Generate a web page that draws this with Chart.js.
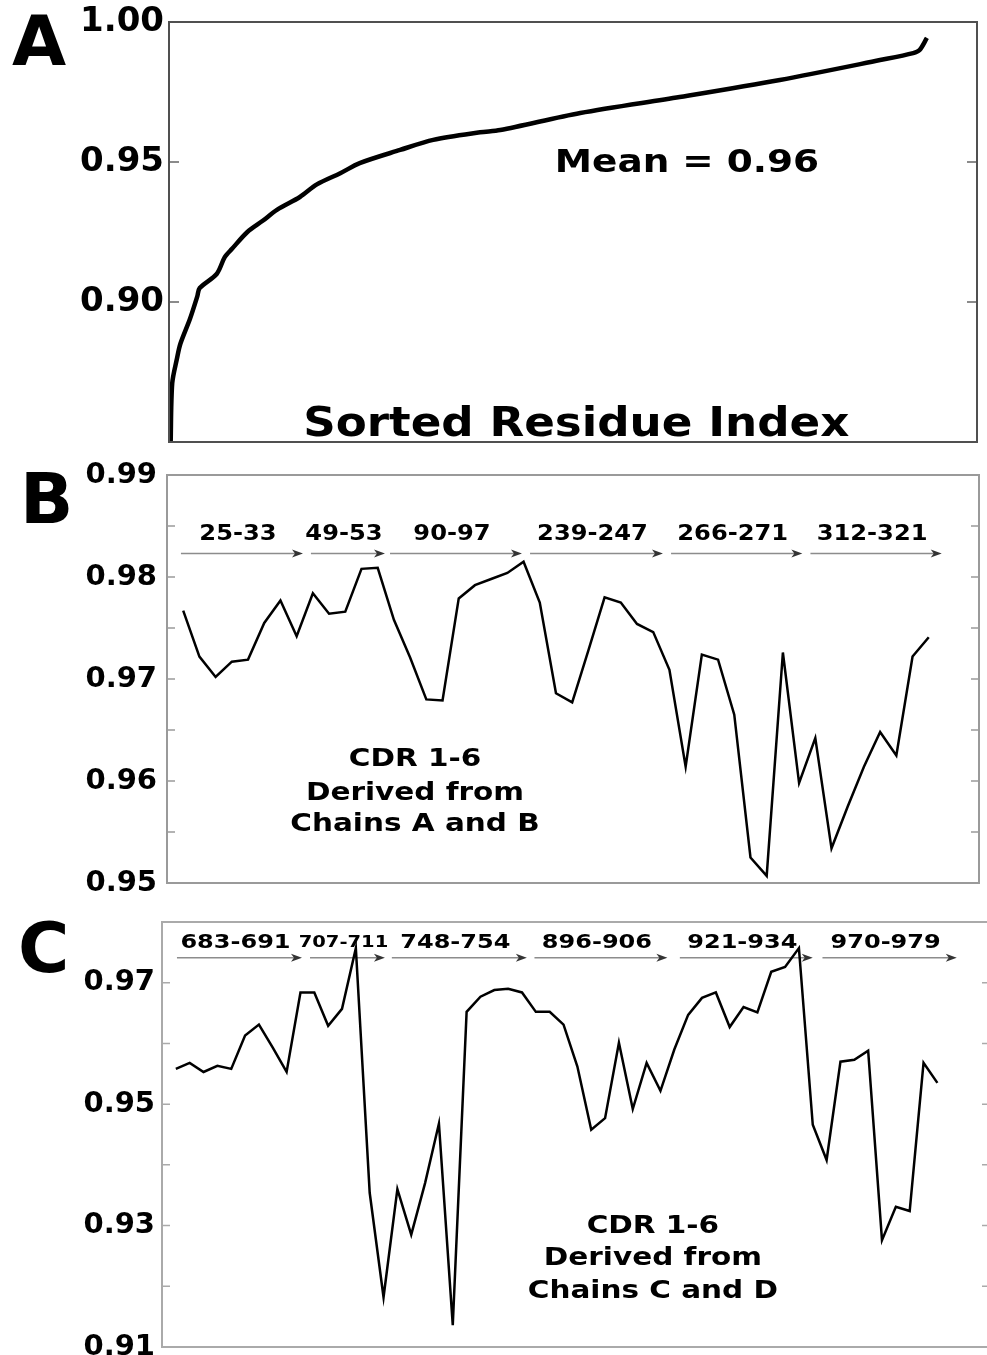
<!DOCTYPE html>
<html>
<head>
<meta charset="utf-8">
<script src="https://cdn.jsdelivr.net/npm/chart.js@4.4.0/dist/chart.umd.min.js"></script>
<style>
  html, body { margin: 0; padding: 0; background: #fff; }
  #wrap { position: relative; width: 987px; height: 1355px; overflow: hidden; background: #fff; }
  canvas { position: absolute; left: 0; }
</style>
</head>
<body>
<div id="wrap">
  <canvas id="chartA" width="987" height="460" style="top:0px"></canvas>
  <canvas id="chartB" width="987" height="445" style="top:455px"></canvas>
  <canvas id="chartC" width="995" height="455" style="top:900px"></canvas>
</div>
<script>
// ---- panel A : sorted residue scores ----
const sortedIndexA = [2, 4, 10, 14, 26, 35, 38, 59, 69, 78, 97, 116, 134, 162, 183, 212, 236, 286, 327, 385, 410, 509, 632, 756, 880, 921, 929, 938];
const sortedScoreA = [0.849, 0.871, 0.880, 0.885, 0.894, 0.902, 0.905, 0.910, 0.916, 0.919, 0.925, 0.929, 0.933, 0.9375, 0.942, 0.946, 0.9496, 0.9543, 0.9579, 0.9606, 0.9614, 0.9675, 0.9732, 0.9793, 0.9864, 0.9889, 0.990, 0.9943];
const yTicksA = ['', '0.90', '0.95', '1.00'];

// ---- panel B : CDR residues, chains A and B ----
const residuesB = [25, 26, 27, 28, 29, 30, 31, 32, 33,
  49, 50, 51, 52, 53,
  90, 91, 92, 93, 94, 95, 96, 97,
  239, 240, 241, 242, 243, 244, 245, 246, 247,
  266, 267, 268, 269, 270, 271,
  312, 313, 314, 315, 316, 317, 318, 319, 320, 321];
const scoreB = [0.9767, 0.9722, 0.9702, 0.9717, 0.9719, 0.9755, 0.9777, 0.9742, 0.9784,
  0.9764, 0.9766, 0.9808, 0.9809, 0.9758,
  0.9721, 0.9680, 0.9679, 0.9779, 0.9792, 0.9798, 0.9804, 0.9815,
  0.9775, 0.9686, 0.9677, 0.9728, 0.9780, 0.9775, 0.9754, 0.9746, 0.9709,
  0.9614, 0.9724, 0.9719, 0.9665, 0.9525, 0.9507,
  0.9726, 0.9598, 0.9642, 0.9534, 0.9575, 0.9614, 0.9648, 0.9625, 0.9722, 0.9741];
const cdrLabelsB = ['25-33', '49-53', '90-97', '239-247', '266-271', '312-321'];
const yTicksB = ['0.95', '', '0.96', '', '0.97', '', '0.98', '', '0.99'];
const noteB = ['CDR 1-6', 'Derived from', 'Chains A and B'];

// ---- panel C : CDR residues, chains C and D ----
const residuesC = [683, 684, 685, 686, 687, 688, 689, 690, 691,
  707, 708, 709, 710, 711,
  748, 749, 750, 751, 752, 753, 754,
  896, 897, 898, 899, 900, 901, 902, 903, 904, 905, 906,
  921, 922, 923, 924, 925, 926, 927, 928, 929, 930, 931, 932, 933, 934,
  970, 971, 972, 973, 974, 975, 976, 977, 978, 979];
const scoreC = [0.9558, 0.9568, 0.9553, 0.9563, 0.9558, 0.9613, 0.9631, 0.9593, 0.9553,
  0.9684, 0.9684, 0.9629, 0.9657, 0.9757,
  0.9354, 0.9182, 0.9360, 0.9285, 0.9370, 0.9468, 0.9136,
  0.9652, 0.9677, 0.9688, 0.9690, 0.9684, 0.9652, 0.9652, 0.9631, 0.9562, 0.9458, 0.9477,
  0.9601, 0.9492, 0.9568, 0.9522, 0.9590, 0.9647, 0.9675, 0.9684, 0.9627, 0.9660, 0.9651, 0.9718, 0.9726, 0.9757,
  0.9466, 0.9408, 0.9570, 0.9573, 0.9588, 0.9276, 0.9331, 0.9324, 0.9568, 0.9535];
const cdrLabelsC = ['683-691', '707-711', '748-754', '896-906', '921-934', '970-979'];
const yTicksC = ['0.91', '', '0.93', '', '0.95', '', '0.97', ''];
const noteC = ['CDR 1-6', 'Derived from', 'Chains C and D'];

// annotation placement (axis units)
const arrowsB = { level: 0.9823, spans: [[-0.14, 7.39], [7.88, 12.45], [12.76, 20.9], [21.4, 29.6], [30.1, 38.2], [38.7, 46.8]] };
const arrowsC = { level: 0.9741, spans: [[0.08, 9.11], [9.69, 15.1], [15.6, 25.35], [25.9, 35.5], [36.4, 46.0], [46.7, 56.4]] };
const labelSizeC = [20, 16, 20, 20, 20, 20];

Chart.defaults.font.family = 'DejaVu Sans';
Chart.defaults.color = '#000';

function wideText(ctx, text, x, y, size, sx, baseline) {
  ctx.save();
  ctx.font = 'bold ' + size + 'px "DejaVu Sans"';
  ctx.fillStyle = '#000';
  ctx.textAlign = 'center';
  ctx.textBaseline = baseline || 'middle';
  ctx.translate(x, y);
  ctx.scale(sx, 1);
  ctx.fillText(text, 0, 0);
  ctx.restore();
}

function drawArrow(ctx, x0, x1, y) {
  ctx.save();
  ctx.strokeStyle = '#8c8c8c';
  ctx.lineWidth = 1.5;
  ctx.beginPath();
  ctx.moveTo(x0, y);
  ctx.lineTo(x1 - 5, y);
  ctx.stroke();
  ctx.fillStyle = '#333';
  ctx.beginPath();
  ctx.moveTo(x1, y);
  ctx.lineTo(x1 - 11, y - 4);
  ctx.lineTo(x1 - 8, y);
  ctx.lineTo(x1 - 11, y + 4);
  ctx.closePath();
  ctx.fill();
  ctx.restore();
}

// frame, inward tick marks and panel letter
function framePlugin(letter, lx, ly, borderColor, tickColor, tickLen) {
  return {
    id: 'frame' + letter,
    afterDatasetsDraw(chart) {
      const { ctx, chartArea: a, scales: { y } } = chart;
      ctx.save();
      ctx.strokeStyle = tickColor;
      ctx.lineWidth = 1.5;
      y.ticks.forEach(t => {
        const py = y.getPixelForValue(t.value);
        if (py < a.top + 2 || py > a.bottom - 2) return;
        ctx.beginPath();
        ctx.moveTo(a.left, py); ctx.lineTo(a.left + tickLen, py);
        ctx.moveTo(a.right - tickLen, py); ctx.lineTo(a.right, py);
        ctx.stroke();
      });
      ctx.strokeStyle = borderColor;
      ctx.lineWidth = 2;
      ctx.strokeRect(a.left, a.top, a.right - a.left, a.bottom - a.top);
      ctx.font = 'bold 70px "DejaVu Sans"';
      ctx.fillStyle = '#000';
      ctx.textAlign = 'left';
      ctx.textBaseline = 'alphabetic';
      ctx.fillText(letter, lx, ly);
      ctx.restore();
    }
  };
}

function yAxis(min, max, step, labels, size, pad, width) {
  return {
    min: min, max: max,
    ticks: {
      stepSize: step, padding: pad, color: '#000',
      font: { family: 'DejaVu Sans', weight: 'bold', size: size },
      callback: (v, i) => labels[i]
    },
    grid: { display: false, drawTicks: false },
    border: { display: false },
    afterFit: s => { s.width = width; s.paddingTop = 0; s.paddingBottom = 0; }
  };
}

const baseOptions = {
  responsive: false,
  animation: false,
  devicePixelRatio: 1,
  plugins: { legend: { display: false }, tooltip: { enabled: false } }
};

// ---- A ----
new Chart(document.getElementById('chartA'), {
  type: 'line',
  data: {
    datasets: [{
      data: sortedIndexA.map((r, i) => ({ x: r, y: sortedScoreA[i] })),
      borderColor: '#000',
      borderWidth: 4.5,
      borderJoinStyle: 'round',
      pointRadius: 0,
      tension: 0.3
    }]
  },
  options: {
    ...baseOptions,
    layout: { padding: { top: 22, right: 10, bottom: 18, left: 0 } },
    scales: {
      x: { type: 'linear', min: 0, max: 1000, display: false },
      y: yAxis(0.85, 1.0, 0.05, yTicksA, 34, 5, 169)
    }
  },
  plugins: [{
    id: 'notesA',
    afterDatasetsDraw(chart) {
      const { ctx, scales: { x, y } } = chart;
      wideText(ctx, 'Mean = 0.96', x.getPixelForValue(641), y.getPixelForValue(0.9495), 32, 1.17);
      wideText(ctx, 'Sorted Residue Index', x.getPixelForValue(504), y.getPixelForValue(0.852), 40, 1.13, 'alphabetic');
    }
  }, framePlugin('A', 12, 65, '#505050', '#666', 10)]
});

// ---- B ----
new Chart(document.getElementById('chartB'), {
  type: 'line',
  data: {
    datasets: [{
      data: residuesB.map((r, i) => ({ x: i, y: scoreB[i] })),
      borderColor: '#000',
      borderWidth: 2.5,
      pointRadius: 0,
      tension: 0
    }]
  },
  options: {
    ...baseOptions,
    layout: { padding: { top: 20, right: 8, bottom: 17, left: 0 } },
    scales: {
      x: { type: 'linear', min: -1, max: 49.1, display: false },
      y: yAxis(0.95, 0.99, 0.005, yTicksB, 29, 10, 167)
    }
  },
  plugins: [{
    id: 'notesB',
    beforeDatasetsDraw(chart) {
      const { ctx, scales: { x, y } } = chart;
      const ay = y.getPixelForValue(arrowsB.level);
      arrowsB.spans.forEach((s, i) => {
        const x0 = x.getPixelForValue(s[0]), x1 = x.getPixelForValue(s[1]);
        drawArrow(ctx, x0, x1, ay);
        wideText(ctx, cdrLabelsB[i], (x0 + x1) / 2 - 4, ay - 19, 21, 1.15);
      });
      const lines = [0.9621, 0.9588, 0.9557];
      noteB.forEach((t, i) => wideText(ctx, t, x.getPixelForValue(14.3), y.getPixelForValue(lines[i]), 25, 1.18));
    }
  }, framePlugin('B', 20, 68, '#9a9a9a', '#9a9a9a', 8)]
});

// ---- C ----
new Chart(document.getElementById('chartC'), {
  type: 'line',
  data: {
    datasets: [{
      data: residuesC.map((r, i) => ({ x: i, y: scoreC[i] })),
      borderColor: '#000',
      borderWidth: 2.5,
      pointRadius: 0,
      tension: 0
    }]
  },
  options: {
    ...baseOptions,
    layout: { padding: { top: 22, right: 5, bottom: 8, left: 0 } },
    scales: {
      x: { type: 'linear', min: -1, max: 58.8, display: false },
      y: yAxis(0.91, 0.98, 0.01, yTicksC, 29, 7, 162)
    }
  },
  plugins: [{
    id: 'notesC',
    beforeDatasetsDraw(chart) {
      const { ctx, scales: { x, y } } = chart;
      const ay = y.getPixelForValue(arrowsC.level);
      arrowsC.spans.forEach((s, i) => {
        const x0 = x.getPixelForValue(s[0]), x1 = x.getPixelForValue(s[1]);
        drawArrow(ctx, x0, x1, ay);
        wideText(ctx, cdrLabelsC[i], (x0 + x1) / 2 - 4, ay - 15, labelSizeC[i], labelSizeC[i] < 20 ? 1.22 : 1.2);
      });
      const lines = [0.9298, 0.9245, 0.9191];
      noteC.forEach((t, i) => wideText(ctx, t, x.getPixelForValue(34.45), y.getPixelForValue(lines[i]), 25, 1.18));
    }
  }, framePlugin('C', 18, 72, '#aaaaaa', '#aaaaaa', 8)]
});
</script>
</body>
</html>
